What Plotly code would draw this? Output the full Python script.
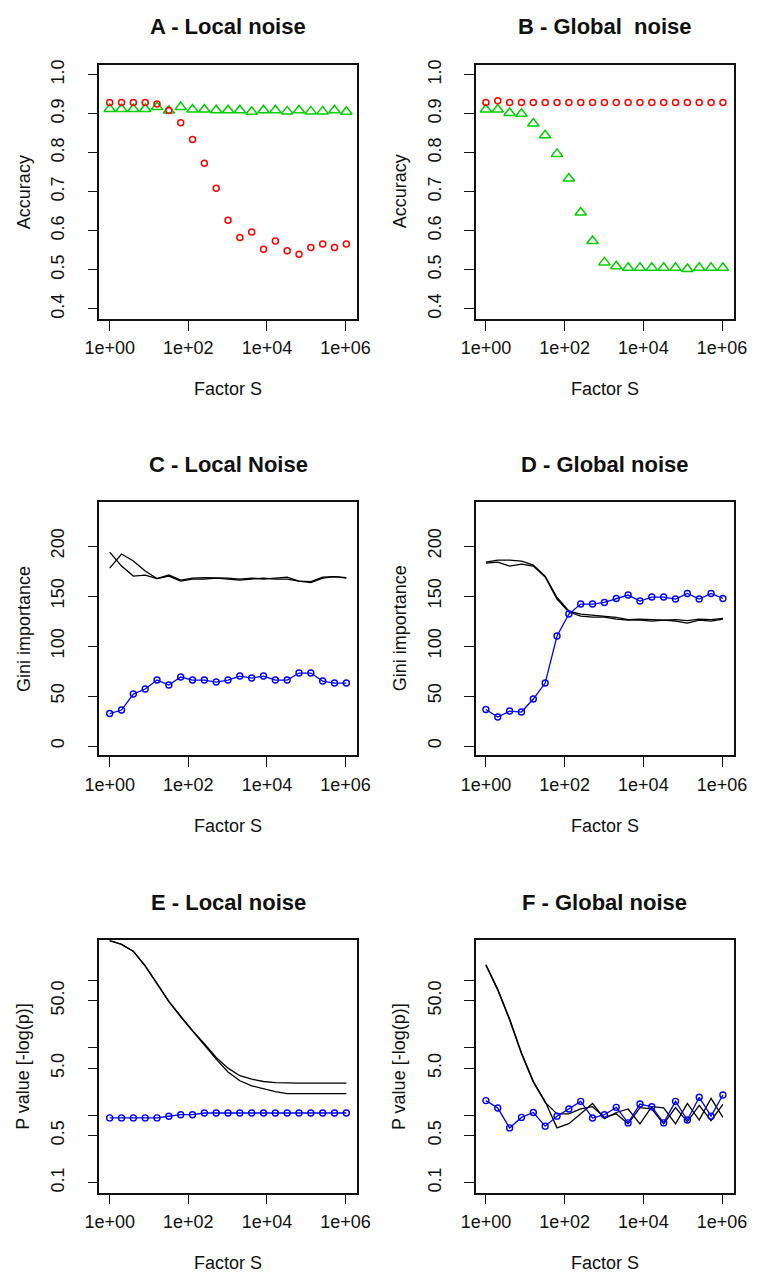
import plotly.graph_objects as go

W, H = 760, 1278

# Factor S used for every panel (powers of two, 1 .. 2^20)
factor_s = [1, 2, 4, 8, 16, 32, 64, 128, 256, 512, 1024, 2048, 4096, 8192,
            16384, 32768, 65536, 131072, 262144, 524288, 1048576]

# A - accuracy under local noise
acc_local_red = [0.929, 0.929, 0.929, 0.929, 0.925, 0.908, 0.877, 0.834, 0.773, 0.709, 0.627,
                 0.583, 0.597, 0.553, 0.574, 0.549, 0.540, 0.557, 0.566, 0.557, 0.566]
acc_local_green = [0.912, 0.912, 0.912, 0.912, 0.917, 0.908, 0.917, 0.911, 0.911, 0.909, 0.909,
                   0.909, 0.905, 0.909, 0.909, 0.906, 0.909, 0.906, 0.906, 0.909, 0.905]

# B - accuracy under global noise
acc_global_red = [0.929, 0.933, 0.929, 0.929, 0.929, 0.929, 0.929, 0.929, 0.929, 0.929, 0.929,
                  0.929, 0.929, 0.929, 0.929, 0.929, 0.929, 0.929, 0.929, 0.929, 0.929]
acc_global_green = [0.911, 0.911, 0.902, 0.900, 0.875, 0.845, 0.797, 0.734, 0.647, 0.574, 0.519,
                    0.509, 0.505, 0.505, 0.505, 0.505, 0.505, 0.502, 0.505, 0.505, 0.505]

# C - Gini importance, local noise
gini_local_k1 = [194, 180, 170, 171, 167.5, 171, 166, 168, 168.5, 168.5, 168,
                 167, 168, 167, 168, 169, 165, 164.5, 169, 169.5, 168.5]
gini_local_k2 = [178, 192, 185, 175, 167.5, 170, 165, 167, 167, 168, 167,
                 166, 167, 168, 167, 167, 165, 163.5, 168, 169.5, 168]
gini_local_noise = [32.5, 36, 52, 57, 66, 61, 69, 66, 66, 64, 66,
                    70, 68, 70, 66, 66, 73, 73, 65, 63, 63]

# D - Gini importance, global noise
gini_global_k1 = [184, 186, 186, 185, 181, 170, 148.6, 135, 132, 131, 130,
                  128.7, 126.4, 127, 126.4, 126, 126.4, 125.4, 127, 126.4, 127.7]
gini_global_k2 = [183, 184, 180, 182, 180, 169, 147, 134, 130, 129, 129,
                  127, 126, 126, 125, 126, 125, 123, 126, 125, 127]
gini_global_noise = [36.5, 29, 35, 34, 47, 63, 110, 132, 142, 142, 143.6,
                     147.6, 151, 145, 149, 149, 147, 152.6, 147, 152.6, 147.6]

# E - P value [-log(p)], local noise
pval_local_k1 = [390, 345, 272, 166, 91, 49, 29.5, 18, 11.5, 7.2, 5.0,
                 3.86, 3.44, 3.17, 3.05, 3.0, 3.0, 3.0, 3.0, 3.0, 3.0]
pval_local_k2 = [390, 343, 270, 163, 89, 48.5, 29, 17.8, 11.3, 6.8, 4.4,
                 3.25, 2.74, 2.45, 2.24, 2.1, 2.1, 2.1, 2.1, 2.1, 2.1]
pval_local_noise = [0.914, 0.914, 0.914, 0.914, 0.914, 0.967, 1.02, 1.02, 1.08, 1.08, 1.08,
                    1.08, 1.08, 1.08, 1.08, 1.08, 1.08, 1.08, 1.08, 1.08, 1.08]

# F - P value [-log(p)], global noise
pval_global_k1 = [172, 74, 27, 8.5, 3.2, 1.6, 0.65, 0.75, 1.05, 1.5, 0.89,
                  1.1, 1.24, 0.745, 1.34, 1.29, 0.745, 1.5, 0.85, 1.78, 0.93]
pval_global_k2 = [168, 72, 26, 8.2, 3.1, 1.55, 1.05, 1.05, 1.24, 1.34, 0.93,
                  1.05, 0.745, 1.3, 1.24, 0.745, 1.3, 0.8, 1.4, 0.83, 1.45]
pval_global_noise = [1.65, 1.28, 0.65, 0.93, 1.1, 0.69, 0.97, 1.24, 1.61, 0.91, 1.02,
                     1.31, 0.77, 1.47, 1.34, 0.77, 1.61, 0.85, 1.85, 0.97, 2.0]

titles = ["A - Local noise", "B - Global\u00a0 noise", "C - Local Noise",
          "D - Global noise", "E - Local noise", "F - Global noise"]
y_titles = ["Accuracy", "Accuracy", "Gini importance", "Gini importance",
            "P value [-log(p)]", "P value [-log(p)]"]
x_title = "Factor S"

x_tickvals = [1, 100, 10000, 1000000]
x_ticktext = ["1e+00", "1e+02", "1e+04", "1e+06"]
acc_ticks = [0.4, 0.5, 0.6, 0.7, 0.8, 0.9, 1.0]
acc_ticktext = ["0.4", "0.5", "0.6", "0.7", "0.8", "0.9", "1.0"]
gini_ticks = [0, 50, 100, 150, 200]
gini_ticktext = ["0", "50", "100", "150", "200"]
pval_ticks = [0.1, 0.5, 1, 5, 10, 50, 100]
pval_ticktext = ["0.1", "0.5", "", "5.0", "", "50.0", ""]

RED = "#FF0000"
GREEN = "#00D000"
BLUE = "#0000FF"
FONT = "Liberation Sans, Arial, sans-serif"

# plot boxes in pixels: (left, right) per column, (top, bottom) per row
cols = [(87.7, 355.0), (478.3, 746.0)]
rows = [(60.0, 315.0), (499.0, 753.3), (939.0, 1192.3)]


def fx(px):
    return px / W


def fy(py):
    return 1 - py / H


fig = go.Figure()


def axis_names(i):
    n = "" if i == 0 else str(i + 1)
    return "x" + n, "y" + n, "xaxis" + n, "yaxis" + n


def add_markers(i, y, color, symbol, size):
    xr, yr, _, _ = axis_names(i)
    fig.add_trace(go.Scatter(x=factor_s, y=y, mode="markers", xaxis=xr, yaxis=yr,
                             marker=dict(symbol=symbol, size=size, color=color,
                                         line=dict(color=color, width=1.5)),
                             showlegend=False, cliponaxis=False))


def add_line(i, y, width=1.3):
    xr, yr, _, _ = axis_names(i)
    fig.add_trace(go.Scatter(x=factor_s, y=y, mode="lines", xaxis=xr, yaxis=yr,
                             line=dict(color="black", width=width),
                             showlegend=False))


def add_blue(i, y):
    xr, yr, _, _ = axis_names(i)
    fig.add_trace(go.Scatter(x=factor_s, y=y, mode="lines+markers", xaxis=xr, yaxis=yr,
                             line=dict(color=BLUE, width=1.3),
                             marker=dict(symbol="circle-open", size=6, color=BLUE,
                                         line=dict(color=BLUE, width=1.4)),
                             showlegend=False))


# A
add_markers(0, acc_local_green, GREEN, "triangle-up-open", 10)
add_markers(0, acc_local_red, RED, "circle-open", 6)
# B
add_markers(1, acc_global_green, GREEN, "triangle-up-open", 10)
add_markers(1, acc_global_red, RED, "circle-open", 6)
# C
add_line(2, gini_local_k1)
add_line(2, gini_local_k2)
add_blue(2, gini_local_noise)
# D
add_line(3, gini_global_k1)
add_line(3, gini_global_k2)
add_blue(3, gini_global_noise)
# E
add_line(4, pval_local_k1)
add_line(4, pval_local_k2)
add_blue(4, pval_local_noise)
# F
add_line(5, pval_global_k1)
add_line(5, pval_global_k2)
add_blue(5, pval_global_noise)

layout = dict(width=W, height=H, margin=dict(l=0, r=0, t=0, b=0),
              paper_bgcolor="white", plot_bgcolor="white",
              font=dict(family=FONT, color="black"), showlegend=False)

annotations = []
for i in range(6):
    r, c = divmod(i, 2)
    (x0, x1), (y0, y1) = cols[c], rows[r]
    xr, yr, xa, ya = axis_names(i)
    common = dict(showline=True, mirror=True, linecolor="#111", linewidth=1.7,
                  ticks="outside", ticklen=10, tickwidth=1.4, tickcolor="#111",
                  showgrid=False, zeroline=False,
                  tickfont=dict(size=18, family=FONT, color="#111"))
    layout[xa] = dict(common, type="log", range=[-0.26, 6.29],
                      domain=[fx(x0), fx(x1)], anchor=yr,
                      tickmode="array", tickvals=x_tickvals, ticktext=x_ticktext,
                      ticklabelstandoff=2)
    if r == 0:
        ydict = dict(range=[0.3745, 1.0255], tickvals=acc_ticks, ticktext=acc_ticktext)
    elif r == 1:
        ydict = dict(range=[-9.3, 244], tickvals=gini_ticks, ticktext=gini_ticktext)
    else:
        ydict = dict(type="log", range=[-1.148, 2.596], tickvals=pval_ticks,
                     ticktext=pval_ticktext)
    layout[ya] = dict(common, domain=[fy(y1), fy(y0)], anchor=xr,
                      tickmode="array", tickangle=-90, ticklabelstandoff=16, **ydict)

    cx = (x0 + x1) / 2
    annotations.append(dict(text="<b>" + titles[i] + "</b>", x=fx(cx), y=fy(y0 - 38),
                            xref="paper", yref="paper", showarrow=False,
                            xanchor="center", yanchor="middle",
                            font=dict(size=22, family=FONT, color="#111")))
    annotations.append(dict(text=x_title, x=fx(cx), y=fy(y1 + 71),
                            xref="paper", yref="paper", showarrow=False,
                            xanchor="center", yanchor="middle",
                            font=dict(size=18, family=FONT, color="#111")))
    annotations.append(dict(text=y_titles[i], x=fx(x0 - 79), y=fy((y0 + y1) / 2),
                            xref="paper", yref="paper", showarrow=False,
                            textangle=-90, xanchor="center", yanchor="middle",
                            font=dict(size=18, family=FONT, color="#111")))

layout["annotations"] = annotations
fig.update_layout(**layout)
fig.write_html("out.html")
